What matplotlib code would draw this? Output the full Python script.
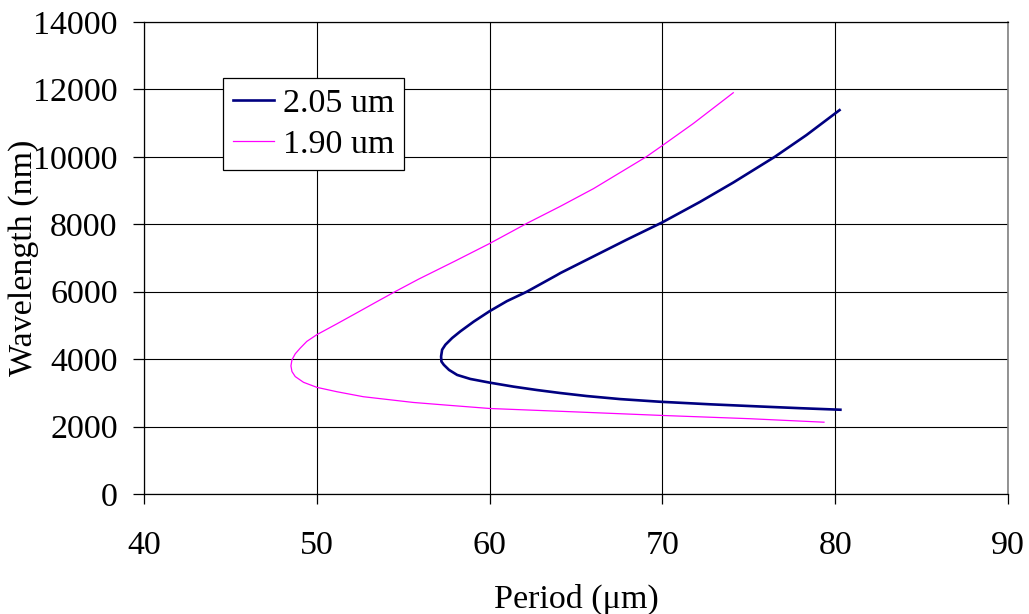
import matplotlib
matplotlib.use("Agg")
import matplotlib.pyplot as plt

plt.rcParams["font.family"] = ["Liberation Serif", "DejaVu Serif"]

# 2.05 um curve, read along the curve from top end to bottom end
navy_x = [80.25, 78.33, 76.5, 74.1, 72.17, 70.0, 67.94, 66.02, 64.1, 63.88,
          62.15, 61.0, 60.0, 59.08, 58.31, 57.83, 57.44, 57.25, 57.19, 57.21,
          57.35, 57.65, 58.12, 58.88, 60.0, 61.38, 62.73, 64.08, 65.62, 67.54,
          69.85, 72.8, 75.7, 78.0, 80.3]
navy_y = [11386, 10644, 10000, 9238, 8663, 8059, 7545, 7050, 6555, 6490,
          6000, 5721, 5423, 5114, 4826, 4627, 4428, 4280, 4080, 3930,
          3831, 3681, 3532, 3413, 3304, 3185, 3085, 2996, 2906, 2816,
          2737, 2660, 2595, 2545, 2500]

# 1.90 um curve
mag_x = [74.1, 71.79, 70.0, 69.06, 66.02, 64.1, 62.2, 60.0, 58.0, 55.87,
         54.52, 53.46, 52.31, 51.15, 50.0, 49.42, 49.04, 48.75, 48.56, 48.5,
         48.56, 48.75, 49.23, 50.0, 51.15, 52.69, 55.58, 57.5, 60.0, 65.0,
         70.0, 75.0, 79.35]
mag_y = [11901, 10990, 10337, 10000, 9060, 8535, 8040, 7430, 6910, 6368,
         6000, 5701, 5373, 5045, 4726, 4527, 4328, 4159, 3980, 3801,
         3632, 3483, 3313, 3164, 3035, 2886, 2716, 2637, 2537, 2435,
         2330, 2235, 2130]

fig = plt.figure(figsize=(10.29, 6.14), dpi=100)
ax = fig.add_axes([0.140, 0.1954, 0.8396, 0.7688])

ax.plot(navy_x, navy_y, color="#000080", lw=1.9, label="2.05 um")
ax.plot(mag_x, mag_y, color="#ff00ff", lw=0.9, label="1.90 um")

ax.set_xlim(40, 90)
ax.set_ylim(0, 14000)
ax.set_xticks(range(40, 91, 10))
ax.set_yticks(range(0, 14001, 2000))
ax.grid(True, color="black", lw=0.8)
ax.set_axisbelow(True)

for s in ["left", "bottom", "top"]:
    ax.spines[s].set_color("black")
    ax.spines[s].set_linewidth(0.9)
ax.spines["right"].set_color("#808080")
ax.spines["right"].set_linewidth(1.2)

fs = 24.5
ax.tick_params(axis="x", direction="out", length=7, width=0.9, labelsize=fs, pad=19)
ax.tick_params(axis="y", direction="out", length=8, width=0.9, labelsize=fs, pad=11)

ax.set_xlabel("Period (μm)", fontsize=fs, labelpad=17)
ax.set_ylabel("Wavelength (nm)", fontsize=fs, labelpad=-4)

leg = ax.legend(loc="upper left", bbox_to_anchor=(0.0914, 0.881), fontsize=fs,
                frameon=True, fancybox=False, edgecolor="black", framealpha=1,
                handlelength=1.2, handletextpad=0.25, borderpad=0.3,
                labelspacing=0.3, borderaxespad=0)
leg.get_frame().set_linewidth(0.9)

fig.savefig("out.png", dpi=100)
